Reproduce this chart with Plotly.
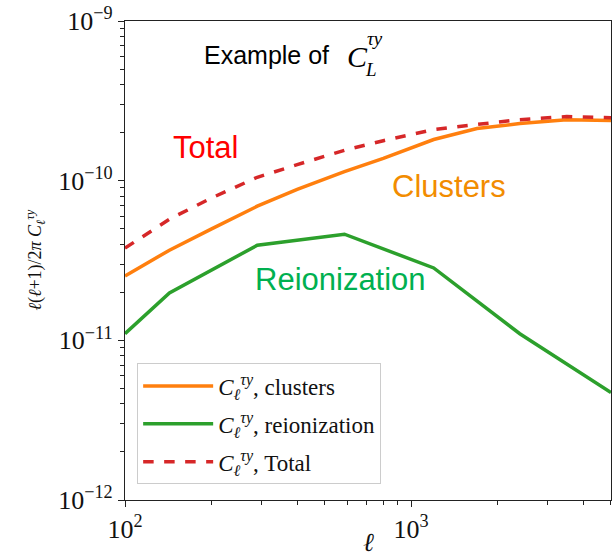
import plotly.graph_objects as go

# multipole grid shared by the clusters and total spectra
ell = [100, 143, 200, 290, 400, 585, 800, 1200, 1700, 2400, 3500, 5000]

# l(l+1)/2pi C_l^{tau y}
clusters = [2.53e-11, 3.67e-11, 4.97e-11, 6.92e-11, 8.83e-11, 1.14e-10,
            1.38e-10, 1.81e-10, 2.12e-10, 2.28e-10, 2.41e-10, 2.38e-10]
ell_reion = [100, 143, 290, 585, 1200, 2400, 5000]
reionization = [1.10e-11, 1.98e-11, 3.94e-11, 4.62e-11, 2.84e-11, 1.10e-11, 4.71e-12]
total = [3.78e-11, 5.74e-11, 7.77e-11, 1.05e-10, 1.26e-10, 1.55e-10,
         1.78e-10, 2.09e-10, 2.25e-10, 2.41e-10, 2.52e-10, 2.48e-10]

y_ticks = [1e-12, 1e-11, 1e-10, 1e-9]
y_tick_text = ["10<sup>−12</sup>", "10<sup>−11</sup>", "10<sup>−10</sup>", "10<sup>−9</sup>"]
x_ticks = [100, 1000]
x_tick_text = ["10<sup>2</sup>", "10<sup>3</sup>"]

SERIF = "Liberation Serif"
SANS = "Liberation Sans"
C_SYM = "<i>C</i><sub><i>ℓ</i></sub><sup><i>τy</i></sup>"

fig = go.Figure()
fig.add_trace(go.Scatter(x=ell, y=clusters, mode="lines",
                         line=dict(color="#ff7f0e", width=3.5),
                         name=C_SYM + ", clusters", legendgroup="a"))
fig.add_trace(go.Scatter(x=ell_reion, y=reionization, mode="lines",
                         line=dict(color="#2ca02c", width=3.5),
                         name=C_SYM + ", reionization", legendgroup="b"))
fig.add_trace(go.Scatter(x=ell, y=total, mode="lines",
                         line=dict(color="#d62728", width=3.5, dash="dash"),
                         name=C_SYM + ", Total", legendgroup="c"))

axis_common = dict(showline=True, linecolor="#222", linewidth=1.3, mirror=True,
                   showgrid=False, zeroline=False, ticks="outside", tickcolor="#222",
                   tickfont=dict(family=SERIF, size=26, color="#111"))

fig.update_xaxes(type="log", range=[2, 3.699], tickmode="array",
                 tickvals=x_ticks, ticktext=x_tick_text, ticklen=6,
                 minor=dict(ticks="outside", ticklen=3.5, tickcolor="#222", dtick="D1"),
                 **axis_common)
fig.update_yaxes(type="log", range=[-12, -9], tickmode="array",
                 tickvals=y_ticks, ticktext=y_tick_text, ticklen=6,
                 minor=dict(ticks="outside", ticklen=3.5, tickcolor="#222", dtick="D1"),
                 **axis_common)


def note(x, y, text, family, size, color, xanchor="center", **kw):
    return dict(x=x, y=y, xref="paper", yref="paper", text=text, showarrow=False,
                xanchor=xanchor, yanchor="middle",
                font=dict(family=family, size=size, color=color), **kw)


annotations = [
    note(0.5, -0.089, "<i>ℓ</i>", SERIF, 26, "#111"),
    note(-0.185, 0.5, "<i>ℓ</i>(<i>ℓ</i>+1)/2<i>π</i> " + C_SYM, SERIF, 18, "#111",
         textangle=-90),
    note(0.158, 0.929, "Example of", SANS, 25, "black", xanchor="left"),
    note(0.453, 0.925, "<i>C</i>", SERIF, 30, "black", xanchor="left"),
    note(0.493, 0.964, "<i>τy</i>", SERIF, 19, "black", xanchor="left"),
    note(0.489, 0.899, "<i>L</i>", SERIF, 19, "black", xanchor="left"),
    note(0.165, 0.735, "Total", SANS, 31, "#ff0000"),
    note(0.667, 0.655, "Clusters", SANS, 31, "#f28c00"),
    note(0.443, 0.46, "Reionization", SANS, 31, "#00b050"),
]

fig.update_layout(
    width=615, height=557,
    margin=dict(l=125, r=3, t=19, b=57),
    paper_bgcolor="white", plot_bgcolor="white",
    annotations=annotations,
    legend=dict(x=0.025, y=0.285, xanchor="left", yanchor="top",
                bgcolor="white", bordercolor="#cccccc", borderwidth=1,
                font=dict(family=SERIF, size=23, color="#111"),
                itemwidth=70, tracegroupgap=5),
)

fig.write_html("out.html")
